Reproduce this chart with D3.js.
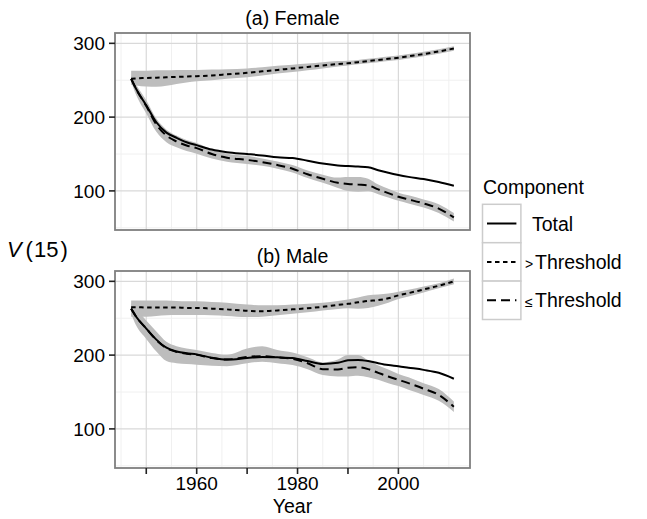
<!DOCTYPE html>
<html>
<head>
<meta charset="utf-8">
<script src="https://cdn.jsdelivr.net/npm/d3@7"></script>
<style>
  body { margin: 0; background: #fff; }
  svg { display: block; }
  text { font-family: "Liberation Sans", Arial, Helvetica, sans-serif; fill: #000; }
</style>
</head>
<body>
<svg id="chart" width="647" height="519"></svg>
<script>
// Survival-weighted component values V(15) by year
const years = [1947,1948,1950,1952,1954,1956,1958,1960,1963,1966,1970,1973,1976,1979,1982,1985,1988,1990,1992,1994,1996,1998,2000,2002,2005,2008,2011];

const femaleTotal   = [252,238,216,193,179,172,166,162,156,152.5,150,148,145.5,144.5,141,137,134.5,133.7,133,132,128,124.5,121.5,119,116,112,107];
const femaleAbove   = [252,252.5,253,253.5,254,254.5,255,255.5,256.5,258,260,262,264,266,268,270,272,273,274.5,276,277.5,279,280.5,282.5,285.5,289,293];
const femaleAboveLo = [244,243,241.5,241,242.5,245,247,248.5,250,252,254,256.5,259,261,263.5,266,268.5,270,271.5,273,274.5,276,277.5,279.5,282.5,286,290];
const femaleAboveHi = [263,263,263,263.5,263.5,264,264,264,264.5,265,266,267.5,269.5,271,272.5,274.5,276,276.5,277.5,279,280.5,282,283.5,285.5,288.5,292,296];
const femaleBelow   = [252,238,215,190,175,167,161.5,158,150,145,142,139,135,130,122.5,116.5,111,109.5,108.5,107.5,102,97,92,88.5,83,76,64];
const femaleBelowLo = [248,230,205,180,166,159,154,150.5,144,139.5,136.5,134,130,125,117.5,111,104,100,99,99.5,95.5,91,86.5,83,77.5,70,58.5];
const femaleBelowHi = [256,244,223,198,183,175,169,165,156,150.5,147.5,144,140,135,127.5,122,118,119,119,116.5,108.5,103,97.5,94,88.5,82,70];

const maleTotal   = [263,252,236,221,210,205,202.5,201,196.5,194,196,197.5,197,196,192,188,189.5,193,193.5,192,189,186.5,185,183,180,176,168];
const maleAbove   = [265,265,264.5,264.5,264.5,264.5,264,264,263,262,260,259.5,260.5,262,263.5,265.5,268,269.5,271.5,273.5,274.5,277,281,284,289,294,300];
const maleAboveLo = [252,252,252,253,254,254.5,254.5,254.5,254,253,251.5,252,254,256,258,260.5,262.5,263.5,263,264,267,271,276,279.5,285,290.5,296];
const maleAboveHi = [274,274,274,274,274,273.5,273,273,272,271,268.5,267.5,267.5,268.5,269.5,271,273.5,275.5,278,281,282,283.5,286,288.5,293,297.5,304];
const maleBelow   = [263,252,236,220.5,209.5,204.5,202,200.5,196,194,197.5,198.5,197,195,189,181,180.5,183,183.5,181,176,171,166.5,162,154.5,146,130];
const maleBelowLo = [256,240,222,205,192,189,188,187,185.5,185,189,191,189,186.5,181,173,171,171,172,170,166.5,162,158,153,146,138,123];
const maleBelowHi = [270,262,247,232,218,212,209,207,203,200.5,209,212,207,203.5,197,190,194,200,200,193,186,180.5,174.5,170,162,154,137];

const panelTitles = ["(a) Female", "(b) Male"];
const components = ["Total", "> Threshold", "\u2264 Threshold"];

const yTicks = [100, 200, 300];
const yMinor = [50, 150, 250];
const xTicks = [1950, 1960, 1970, 1980, 1990, 2000];
const xTickLabels = ["", "1960", "", "1980", "", "2000"];
const xMinor = [1945, 1955, 1965, 1975, 1985, 1995, 2005, 2010];

const svg = d3.select("#chart");
svg.append("rect").attr("width", 647).attr("height", 519).attr("fill", "#fff");

const left = 115, right = 470, panelH = 197;
const panelTops = [33, 271];

const x = d3.scaleLinear().domain([1943.8, 2014.2]).range([left, right]);

const dashFor = {
  "Total": null,
  "> Threshold": "4.5,3.5",
  "\u2264 Threshold": "9,5"
};

const panels = [
  { total: femaleTotal, above: femaleAbove, aboveLo: femaleAboveLo, aboveHi: femaleAboveHi,
    below: femaleBelow, belowLo: femaleBelowLo, belowHi: femaleBelowHi },
  { total: maleTotal, above: maleAbove, aboveLo: maleAboveLo, aboveHi: maleAboveHi,
    below: maleBelow, belowLo: maleBelowLo, belowHi: maleBelowHi }
];

panels.forEach((p, i) => {
  const top = panelTops[i];
  const y = d3.scaleLinear().domain([47, 314]).range([top + panelH, top]);
  const g = svg.append("g");

  g.append("rect").attr("x", left).attr("y", top).attr("width", right - left).attr("height", panelH)
    .attr("fill", "#fff");

  // minor grid
  g.selectAll(null).data(xMinor).join("line")
    .attr("x1", d => x(d)).attr("x2", d => x(d)).attr("y1", top).attr("y2", top + panelH)
    .attr("stroke", "#f0f0f0").attr("stroke-width", 1);
  g.selectAll(null).data(yMinor).join("line")
    .attr("x1", left).attr("x2", right).attr("y1", d => y(d)).attr("y2", d => y(d))
    .attr("stroke", "#f0f0f0").attr("stroke-width", 1);
  // major grid
  g.selectAll(null).data(xTicks).join("line")
    .attr("x1", d => x(d)).attr("x2", d => x(d)).attr("y1", top).attr("y2", top + panelH)
    .attr("stroke", "#d9d9d9").attr("stroke-width", 1.2);
  g.selectAll(null).data(yTicks).join("line")
    .attr("x1", left).attr("x2", right).attr("y1", d => y(d)).attr("y2", d => y(d))
    .attr("stroke", "#d9d9d9").attr("stroke-width", 1.2);

  const rows = (vals) => years.map((yr, k) => ({ year: yr, v: vals[k] }));
  const band = (lo, hi) => years.map((yr, k) => ({ year: yr, lo: lo[k], hi: hi[k] }));

  const area = d3.area().x(d => x(d.year)).y0(d => y(d.lo)).y1(d => y(d.hi)).curve(d3.curveMonotoneX);
  const line = d3.line().x(d => x(d.year)).y(d => y(d.v)).curve(d3.curveMonotoneX);

  g.append("path").attr("d", area(band(p.aboveLo, p.aboveHi))).attr("fill", "#bdbdbd");
  g.append("path").attr("d", area(band(p.belowLo, p.belowHi))).attr("fill", "#bdbdbd");

  const series = [
    { key: "Total", vals: p.total },
    { key: "> Threshold", vals: p.above },
    { key: "\u2264 Threshold", vals: p.below }
  ];
  series.forEach(s => {
    g.append("path").attr("d", line(rows(s.vals)))
      .attr("fill", "none").attr("stroke", "#000").attr("stroke-width", 2)
      .attr("stroke-dasharray", dashFor[s.key]);
  });

  // panel border
  g.append("rect").attr("x", left).attr("y", top).attr("width", right - left).attr("height", panelH)
    .attr("fill", "none").attr("stroke", "#7f7f7f").attr("stroke-width", 1.8);

  // y axis
  g.selectAll(null).data(yTicks).join("line")
    .attr("x1", left - 6).attr("x2", left).attr("y1", d => y(d)).attr("y2", d => y(d))
    .attr("stroke", "#222").attr("stroke-width", 1.6);
  g.selectAll(null).data(yTicks).join("text")
    .attr("x", left - 10).attr("y", d => y(d)).attr("dy", "0.35em")
    .attr("text-anchor", "end").attr("font-size", 19).text(d => d);

  // strip title
  g.append("text").attr("x", (left + right) / 2).attr("y", top - 8)
    .attr("text-anchor", "middle").attr("font-size", 19.5).text(panelTitles[i]);

  // x axis only on bottom panel
  if (i === panels.length - 1) {
    const b = top + panelH;
    g.selectAll(null).data(xTicks).join("line")
      .attr("x1", d => x(d)).attr("x2", d => x(d)).attr("y1", b).attr("y2", b + 6)
      .attr("stroke", "#222").attr("stroke-width", 1.6);
    g.selectAll(null).data(xTicks).join("text")
      .attr("x", d => x(d)).attr("y", b + 22)
      .attr("text-anchor", "middle").attr("font-size", 19)
      .text((d, k) => xTickLabels[k]);
    g.append("text").attr("x", (left + right) / 2).attr("y", b + 45)
      .attr("text-anchor", "middle").attr("font-size", 19.5).text("Year");
  }
});

// y axis title V(15)
const yt = svg.append("text").attr("y", 257).attr("font-size", 22);
yt.append("tspan").attr("x", 7).attr("font-style", "italic").text("V");
yt.append("tspan").attr("x", 25.5).text("(");
yt.append("tspan").attr("x", 34).text("15");
yt.append("tspan").attr("x", 60.5).text(")");

// legend
const lg = svg.append("g");
lg.append("text").attr("x", 483).attr("y", 194).attr("font-size", 19.5).text("Component");
const keyX = 482.5, keyY0 = 204.3, keyS = 38.4;
components.forEach((c, k) => {
  const ky = keyY0 + k * keyS;
  lg.append("rect").attr("x", keyX).attr("y", ky).attr("width", keyS).attr("height", keyS)
    .attr("fill", "#fff").attr("stroke", "#cccccc").attr("stroke-width", 1.5);
  lg.append("line").attr("x1", keyX + 4.5).attr("x2", keyX + keyS - 4.5)
    .attr("y1", ky + keyS / 2).attr("y2", ky + keyS / 2)
    .attr("stroke", "#000").attr("stroke-width", 2).attr("stroke-dasharray", dashFor[c]);
  const t = lg.append("text").attr("y", ky + keyS / 2 + 7).attr("font-size", 19.5);
  if (c === "Total") {
    t.append("tspan").attr("x", 532).text(c);
  } else {
    t.append("tspan").attr("x", 525).attr("font-size", 14).text(c.charAt(0));
    t.append("tspan").attr("x", 535).text(c.slice(2));
  }
});
</script>
</body>
</html>
